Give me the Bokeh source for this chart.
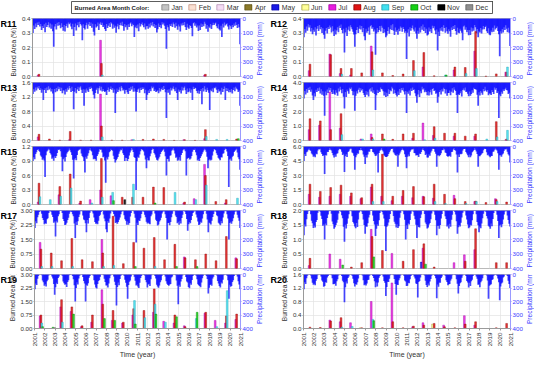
import math
from bokeh.plotting import figure
from bokeh.models import (Range1d, LinearAxis, FixedTicker, PrintfTickFormatter, Label,
                          Legend, LegendItem)
from bokeh.layouts import column, row
from bokeh.embed import file_html
from bokeh.resources import INLINE

FONT = "Liberation Sans"

# ---------------- data ----------------
years = list(range(2001, 2021))
year_ticks = list(range(2001, 2022))
month_names = ["Jan", "Feb", "Mar", "Apr", "May", "Jun", "Jul", "Aug", "Sep", "Oct", "Nov", "Dec"]
month_fill = ["#c4c4c4", "#fbe0d2", "#f4dcf4", "#8b7a2a", "#1a1ae6", "#ffff99",
              "#e81ee0", "#e01414", "#40e0f0", "#14d014", "#000000", "#909090"]
month_edge = ["#808080", "#c09080", "#b890b8", "#5a4e10", "#0000a0", "#a0a040",
              "#a000a0", "#900000", "#20a0b0", "#008000", "#000000", "#606060"]

regions = ["R11", "R12", "R13", "R14", "R15", "R16", "R17", "R18", "R19", "R20"]
ba_ticks = {
    "R11": [0.0, 0.1, 0.2, 0.3, 0.4], "R12": [0.0, 0.1, 0.2, 0.3, 0.4],
    "R13": [0.0, 0.4, 0.8, 1.2, 1.6], "R14": [0.0, 1.0, 2.0, 3.0, 4.0],
    "R15": [0.0, 0.3, 0.6, 0.9, 1.2], "R16": [0.0, 1.5, 3.0, 4.5, 6.0],
    "R17": [0.0, 0.75, 1.5, 2.25, 3.0], "R18": [0.0, 0.5, 1.0, 1.5, 2.0],
    "R19": [0.0, 0.75, 1.5, 2.25, 3.0], "R20": [0.0, 0.4, 0.8, 1.2, 1.6],
}
ba_label_fmt = {"R17": "%.2f", "R19": "%.2f"}
precip_ticks = [0, 100, 200, 300, 400]

# burned area: (year, month, percent)
ba_R11 = [(2001, 7, 0.01), (2001, 8, 0.015), (2007, 7, 0.25), (2007, 8, 0.09), (2007, 9, 0.01),
          (2017, 7, 0.01), (2017, 8, 0.015)]
ba_R12 = [(2001, 7, 0.04), (2001, 8, 0.085), (2003, 7, 0.155), (2003, 8, 0.15),
          (2004, 7, 0.02), (2004, 8, 0.055), (2004, 9, 0.015), (2005, 7, 0.01), (2005, 8, 0.055),
          (2006, 8, 0.025), (2007, 7, 0.21), (2007, 8, 0.17), (2007, 9, 0.045), (2008, 8, 0.025),
          (2009, 8, 0.007), (2010, 8, 0.017), (2011, 8, 0.11), (2011, 9, 0.04),
          (2012, 7, 0.065), (2012, 8, 0.165), (2013, 8, 0.005), (2014, 9, 0.01), (2014, 10, 0.01),
          (2015, 7, 0.045), (2015, 8, 0.065), (2016, 8, 0.062), (2016, 9, 0.02),
          (2017, 7, 0.175), (2017, 8, 0.31), (2017, 9, 0.055), (2018, 8, 0.003), (2019, 8, 0.018),
          (2020, 7, 0.03), (2020, 8, 0.03), (2020, 9, 0.065)]
ba_R13 = [(2001, 7, 0.1), (2001, 8, 0.17), (2002, 8, 0.04), (2003, 8, 0.01), (2004, 7, 0.02),
          (2004, 8, 0.25), (2005, 8, 0.01), (2006, 8, 0.01), (2007, 7, 1.28), (2007, 8, 0.4),
          (2007, 9, 0.1), (2008, 8, 0.01), (2009, 8, 0.01), (2010, 7, 0.02), (2010, 9, 0.03),
          (2011, 8, 0.03), (2012, 8, 0.04), (2013, 8, 0.03), (2014, 8, 0.005), (2015, 7, 0.02),
          (2015, 8, 0.02), (2016, 8, 0.005), (2017, 7, 0.05), (2017, 8, 0.3), (2017, 9, 0.11),
          (2018, 9, 0.03), (2019, 9, 0.03), (2020, 8, 0.04), (2020, 10, 0.05)]
ba_R14 = [(2001, 7, 0.75), (2001, 8, 1.5), (2002, 7, 1.05), (2002, 8, 1.35), (2003, 7, 3.35),
          (2003, 8, 0.75), (2004, 7, 0.85), (2004, 8, 1.85), (2004, 9, 0.4), (2006, 7, 0.1),
          (2006, 9, 0.1), (2007, 7, 0.45), (2007, 8, 0.2), (2007, 9, 0.1), (2008, 8, 0.45),
          (2008, 10, 0.1), (2009, 8, 0.08), (2010, 8, 0.45), (2011, 7, 0.15), (2011, 8, 0.5),
          (2012, 7, 1.2), (2012, 9, 0.05), (2013, 7, 0.35), (2013, 8, 0.95), (2013, 9, 0.15),
          (2014, 8, 0.5), (2015, 7, 0.3), (2015, 8, 0.5), (2016, 8, 0.3), (2017, 7, 0.3),
          (2017, 8, 0.45), (2018, 9, 0.1), (2019, 8, 1.3), (2019, 9, 0.25), (2020, 7, 0.05),
          (2020, 8, 0.1), (2020, 9, 0.7)]
ba_R15 = [(2001, 7, 0.05), (2001, 8, 0.44), (2001, 9, 0.16), (2002, 9, 0.1), (2003, 7, 0.2),
          (2003, 8, 0.37), (2003, 9, 0.17), (2004, 8, 0.63), (2004, 9, 0.34), (2005, 7, 0.03),
          (2005, 8, 0.07), (2006, 7, 0.1), (2006, 9, 0.03), (2007, 7, 0.3), (2007, 8, 0.95),
          (2007, 9, 0.15), (2008, 7, 0.18), (2008, 9, 0.25), (2008, 10, 0.08), (2009, 8, 0.15),
          (2009, 11, 0.1), (2010, 8, 0.15), (2010, 9, 0.42), (2011, 8, 0.15), (2012, 8, 0.36),
          (2012, 10, 0.03), (2013, 8, 0.35), (2014, 9, 0.25), (2015, 7, 0.03), (2015, 8, 0.05),
          (2016, 7, 0.12), (2016, 9, 0.1), (2017, 7, 0.83), (2017, 8, 0.6), (2017, 9, 0.4),
          (2018, 8, 0.06), (2019, 7, 0.03), (2019, 8, 0.1), (2020, 9, 0.13)]
ba_R16 = [(2001, 7, 1.05), (2001, 8, 2.1), (2002, 7, 0.75), (2002, 8, 1.35), (2003, 7, 0.85),
          (2003, 8, 1.75), (2004, 7, 1.05), (2004, 8, 2.0), (2005, 7, 0.85), (2005, 8, 1.2),
          (2006, 7, 0.6), (2006, 8, 0.7), (2007, 7, 1.8), (2007, 8, 2.1), (2007, 9, 0.3),
          (2008, 7, 0.85), (2008, 8, 5.2), (2008, 9, 0.3), (2009, 7, 0.4), (2009, 8, 0.85),
          (2010, 7, 0.85), (2010, 8, 1.45), (2011, 7, 0.7), (2011, 8, 1.85), (2012, 7, 0.85),
          (2012, 8, 0.8), (2013, 7, 0.65), (2013, 8, 2.1), (2013, 9, 0.3), (2014, 8, 1.05),
          (2014, 9, 0.1), (2015, 7, 0.95), (2015, 8, 0.6), (2016, 8, 0.3), (2016, 9, 0.1),
          (2017, 7, 0.3), (2017, 8, 0.35), (2017, 9, 0.3), (2018, 8, 0.2), (2019, 7, 0.6),
          (2019, 8, 0.5), (2019, 9, 0.3), (2020, 8, 0.25)]
ba_R17 = [(2001, 7, 1.35), (2001, 8, 1.0), (2001, 9, 0.1), (2002, 8, 0.8), (2002, 9, 0.1),
          (2003, 8, 0.4), (2004, 8, 1.55), (2004, 9, 0.1), (2005, 8, 0.45), (2006, 8, 0.35),
          (2007, 7, 1.5), (2007, 8, 0.8), (2007, 9, 0.1), (2008, 8, 2.7), (2008, 9, 0.15),
          (2009, 8, 0.25), (2010, 8, 1.35), (2010, 10, 0.1), (2011, 8, 1.05), (2012, 8, 1.6),
          (2012, 9, 0.1), (2013, 8, 0.45), (2014, 8, 1.25), (2014, 10, 0.1), (2015, 7, 0.6),
          (2015, 8, 0.55), (2016, 8, 0.45), (2016, 10, 0.1), (2017, 8, 0.75), (2018, 8, 0.4),
          (2019, 8, 1.65), (2020, 7, 0.55), (2020, 8, 0.5)]
ba_R18 = [(2001, 7, 0.1), (2001, 8, 0.35), (2003, 7, 0.5), (2004, 7, 0.32), (2004, 10, 0.12),
          (2005, 8, 0.05), (2006, 8, 0.2), (2007, 7, 1.35), (2007, 8, 1.1), (2007, 10, 0.4),
          (2008, 8, 0.62), (2009, 7, 0.52), (2010, 8, 0.25), (2011, 8, 0.65), (2012, 5, 0.22),
          (2012, 7, 0.7), (2012, 8, 0.85), (2012, 10, 0.15), (2013, 8, 0.05), (2015, 7, 0.2),
          (2016, 7, 0.47), (2016, 8, 0.25), (2017, 7, 0.65), (2017, 8, 1.37), (2019, 8, 0.2),
          (2020, 8, 0.2)]
ba_R19 = [(2001, 7, 0.7), (2001, 8, 0.75), (2001, 9, 0.3), (2001, 10, 0.1), (2002, 10, 0.07),
          (2002, 12, 0.05), (2003, 7, 1.2), (2003, 8, 1.6), (2003, 9, 0.35), (2004, 7, 0.95),
          (2004, 8, 1.2), (2004, 10, 0.8), (2005, 7, 0.1), (2005, 8, 0.15), (2006, 7, 0.35),
          (2006, 8, 0.75), (2007, 7, 2.15), (2007, 8, 1.35), (2007, 10, 0.55), (2008, 7, 0.45),
          (2008, 8, 1.0), (2008, 10, 0.45), (2009, 7, 0.3), (2009, 8, 0.35), (2010, 7, 0.75),
          (2010, 8, 1.1), (2010, 9, 1.55), (2010, 10, 0.25), (2011, 8, 1.0), (2011, 9, 0.6),
          (2012, 7, 0.9), (2012, 8, 2.2), (2012, 9, 1.35), (2012, 10, 0.8), (2013, 7, 0.4),
          (2013, 9, 0.35), (2014, 7, 0.3), (2014, 8, 0.75), (2014, 10, 0.65), (2015, 7, 0.15),
          (2015, 8, 0.1), (2016, 9, 0.55), (2016, 10, 0.9), (2017, 7, 0.85), (2017, 8, 0.9),
          (2018, 7, 0.45), (2018, 9, 0.1), (2019, 7, 0.3), (2019, 8, 0.7), (2019, 9, 2.1),
          (2020, 7, 0.5), (2020, 8, 0.8)]
ba_R20 = [(2001, 8, 0.04), (2002, 8, 0.03), (2003, 7, 0.25), (2003, 8, 0.22), (2004, 7, 0.2),
          (2004, 8, 0.32), (2004, 9, 0.04), (2005, 7, 0.17), (2005, 9, 0.06), (2006, 6, 0.02),
          (2006, 8, 0.02), (2007, 7, 0.8), (2007, 9, 0.27), (2007, 10, 0.23), (2008, 8, 0.02),
          (2009, 7, 1.35), (2009, 8, 0.2), (2010, 8, 0.02), (2011, 7, 0.05), (2011, 8, 0.07),
          (2012, 7, 0.17), (2012, 8, 0.1), (2013, 6, 0.13), (2013, 8, 0.15), (2014, 7, 0.1),
          (2014, 8, 0.05), (2015, 8, 0.02), (2016, 7, 0.38), (2016, 8, 0.13), (2017, 7, 0.1),
          (2017, 8, 0.2), (2019, 8, 0.02), (2020, 8, 0.15)]

# monthly precipitation (mm), one row per year 2001..2020, Jan..Dec
pr_R11 = [
    [100, 48, 72, 35, 60, 28, 44, 22, 55, 38, 80, 52], [66, 40, 95, 30, 58, 45, 25, 62, 34, 70, 42, 88],
    [195, 55, 38, 76, 30, 50, 24, 46, 68, 32, 58, 84], [44, 90, 52, 36, 64, 28, 40, 30, 56, 74, 36, 120],
    [58, 34, 82, 46, 26, 60, 22, 38, 48, 150, 40, 66], [76, 46, 30, 70, 42, 24, 52, 28, 64, 36, 92, 118],
    [40, 62, 54, 28, 80, 36, 26, 44, 30, 58, 46, 72], [86, 38, 66, 50, 32, 58, 24, 34, 70, 42, 64, 50],
    [98, 56, 36, 74, 44, 30, 48, 22, 52, 84, 38, 60], [46, 78, 40, 58, 34, 26, 54, 36, 44, 128, 62, 48],
    [68, 42, 88, 32, 56, 40, 28, 46, 60, 34, 76, 54], [52, 70, 36, 62, 30, 48, 24, 56, 38, 66, 44, 96],
    [74, 34, 58, 44, 68, 26, 42, 30, 50, 72, 208, 46], [60, 84, 40, 52, 36, 58, 28, 40, 64, 30, 54, 78],
    [42, 56, 90, 34, 48, 30, 46, 24, 58, 80, 36, 62], [70, 44, 52, 66, 122, 32, 26, 50, 34, 62, 48, 86],
    [48, 80, 34, 58, 40, 54, 22, 36, 70, 44, 92, 56], [64, 38, 72, 46, 30, 44, 34, 28, 54, 68, 40, 74],
    [82, 50, 128, 36, 62, 28, 48, 40, 32, 56, 76, 44], [54, 72, 44, 60, 34, 50, 26, 44, 66, 38, 60, 178]]
pr_R12 = [
    [130, 72, 98, 55, 84, 40, 62, 46, 90, 66, 108, 78], [92, 60, 118, 70, 52, 86, 44, 74, 58, 100, 68, 112],
    [140, 84, 66, 104, 58, 72, 48, 62, 96, 54, 88, 120], [76, 110, 82, 60, 94, 50, 66, 42, 80, 102, 70, 235],
    [96, 64, 120, 78, 56, 88, 46, 60, 74, 92, 110, 195], [108, 80, 58, 100, 70, 48, 76, 52, 94, 66, 122, 150],
    [70, 98, 86, 62, 112, 54, 44, 70, 58, 90, 76, 250], [104, 66, 94, 80, 52, 90, 50, 64, 100, 72, 96, 130],
    [118, 86, 60, 106, 74, 46, 80, 40, 84, 114, 62, 92], [80, 112, 70, 88, 56, 64, 92, 58, 72, 98, 86, 280],
    [98, 74, 124, 60, 84, 66, 48, 76, 90, 62, 104, 140], [84, 106, 64, 96, 54, 78, 42, 86, 60, 100, 70, 118],
    [110, 62, 90, 72, 100, 50, 68, 54, 82, 108, 76, 220], [92, 120, 68, 84, 58, 90, 46, 66, 98, 60, 88, 106],
    [74, 88, 126, 62, 80, 52, 72, 44, 86, 112, 64, 96], [102, 70, 84, 98, 150, 56, 48, 78, 60, 94, 80, 116],
    [80, 114, 62, 90, 68, 84, 44, 60, 102, 72, 130, 88], [96, 66, 104, 76, 52, 74, 58, 50, 88, 100, 68, 110],
    [116, 82, 94, 64, 92, 48, 76, 66, 56, 86, 108, 260], [88, 104, 72, 96, 60, 80, 46, 70, 94, 64, 98, 190]]
pr_R13 = [
    [80, 46, 64, 34, 56, 30, 42, 24, 52, 40, 70, 48], [120, 52, 40, 72, 34, 54, 26, 48, 36, 62, 44, 76],
    [200, 44, 68, 38, 60, 28, 46, 32, 58, 36, 74, 54], [56, 82, 46, 64, 36, 50, 24, 40, 66, 30, 58, 185],
    [64, 38, 74, 48, 30, 58, 34, 26, 50, 72, 46, 160], [48, 70, 42, 56, 66, 32, 44, 28, 40, 60, 84, 110],
    [72, 50, 36, 78, 40, 26, 56, 30, 62, 44, 58, 66], [58, 86, 52, 34, 64, 44, 28, 50, 38, 70, 48, 210],
    [76, 42, 66, 50, 32, 60, 24, 36, 56, 46, 78, 52], [50, 68, 80, 38, 58, 30, 48, 26, 64, 40, 62, 200],
    [66, 48, 42, 70, 36, 52, 32, 44, 34, 74, 50, 120], [84, 56, 72, 44, 60, 28, 40, 30, 58, 48, 66, 60],
    [54, 74, 38, 62, 46, 34, 52, 24, 44, 68, 245, 50], [70, 46, 84, 36, 56, 42, 28, 46, 60, 34, 72, 120],
    [48, 64, 52, 76, 30, 56, 36, 28, 54, 80, 42, 68], [62, 40, 70, 48, 120, 30, 44, 34, 40, 58, 74, 56],
    [78, 58, 44, 150, 38, 62, 26, 48, 66, 36, 54, 70], [190, 50, 60, 42, 68, 34, 40, 30, 50, 72, 46, 62],
    [56, 82, 36, 66, 44, 28, 120, 38, 58, 42, 68, 52], [68, 44, 76, 52, 34, 60, 30, 42, 48, 66, 56, 160]]
pr_R14 = [
    [110, 58, 82, 44, 70, 36, 52, 30, 64, 48, 90, 120], [74, 96, 50, 66, 40, 58, 34, 76, 46, 84, 60, 92],
    [230, 62, 88, 48, 72, 34, 56, 38, 66, 80, 50, 78], [84, 54, 70, 92, 42, 62, 30, 50, 74, 44, 98, 180],
    [66, 100, 48, 60, 78, 36, 46, 34, 58, 88, 62, 195], [92, 60, 76, 50, 36, 68, 40, 56, 44, 72, 86, 100],
    [58, 84, 64, 96, 48, 40, 62, 32, 70, 54, 80, 190], [88, 50, 72, 56, 66, 34, 44, 48, 60, 90, 64, 100],
    [70, 94, 46, 80, 52, 60, 30, 42, 78, 50, 72, 84], [96, 62, 86, 44, 70, 38, 54, 36, 62, 82, 58, 210],
    [64, 78, 56, 90, 42, 58, 34, 52, 46, 74, 94, 140], [82, 52, 100, 60, 74, 30, 48, 40, 68, 56, 66, 88],
    [60, 90, 68, 50, 84, 44, 38, 58, 52, 78, 70, 140], [98, 66, 54, 82, 46, 62, 36, 44, 76, 48, 92, 72],
    [72, 56, 88, 64, 40, 70, 32, 50, 58, 86, 210, 80], [86, 74, 60, 96, 52, 42, 56, 34, 66, 62, 78, 94],
    [62, 92, 80, 54, 70, 36, 44, 46, 50, 84, 160, 68], [90, 58, 70, 84, 44, 60, 30, 56, 64, 52, 88, 76],
    [76, 86, 52, 66, 80, 34, 50, 38, 72, 60, 245, 82], [94, 64, 78, 48, 58, 46, 36, 52, 56, 80, 70, 110]]
pr_R15 = [
    [100, 74, 88, 52, 40, 24, 18, 30, 36, 62, 70, 92], [82, 96, 210, 60, 34, 28, 16, 22, 44, 56, 84, 76],
    [98, 68, 80, 66, 44, 20, 24, 18, 32, 70, 170, 88], [76, 104, 72, 48, 38, 30, 14, 26, 40, 58, 92, 220],
    [90, 80, 94, 58, 30, 22, 20, 16, 48, 66, 74, 100], [180, 70, 84, 64, 46, 26, 12, 28, 34, 60, 88, 82],
    [86, 98, 66, 54, 36, 18, 22, 20, 42, 74, 68, 96], [250, 76, 90, 70, 40, 32, 16, 24, 30, 64, 86, 110],
    [94, 84, 72, 50, 34, 20, 26, 14, 46, 58, 100, 78], [80, 100, 86, 62, 42, 28, 10, 22, 38, 72, 80, 300],
    [102, 70, 78, 56, 32, 18, 20, 26, 34, 62, 90, 150], [78, 94, 96, 68, 48, 24, 14, 18, 44, 56, 76, 92],
    [96, 82, 70, 52, 38, 30, 22, 16, 36, 68, 200, 86], [84, 104, 64, 60, 30, 22, 12, 28, 48, 78, 70, 98],
    [92, 74, 98, 58, 44, 26, 18, 20, 32, 200, 84, 80], [76, 90, 82, 66, 36, 20, 24, 14, 40, 60, 96, 88],
    [100, 80, 68, 54, 40, 28, 16, 22, 36, 70, 150, 94], [86, 96, 92, 62, 34, 18, 20, 26, 46, 58, 78, 84],
    [94, 72, 76, 50, 46, 24, 14, 18, 34, 66, 280, 90], [82, 98, 70, 64, 38, 30, 22, 16, 42, 74, 88, 160]]
pr_R16 = [
    [100, 52, 66, 40, 34, 22, 14, 26, 30, 48, 56, 70], [64, 74, 48, 54, 28, 18, 20, 16, 40, 52, 66, 58],
    [190, 58, 62, 36, 38, 24, 12, 22, 28, 44, 60, 76], [56, 70, 50, 46, 26, 16, 18, 20, 36, 58, 50, 175],
    [68, 54, 72, 38, 32, 20, 14, 16, 42, 46, 64, 160], [74, 60, 46, 50, 24, 26, 10, 24, 30, 56, 70, 120],
    [58, 76, 56, 34, 36, 18, 16, 18, 38, 42, 54, 66], [62, 50, 180, 44, 30, 22, 12, 26, 34, 60, 68, 72],
    [72, 66, 52, 40, 28, 16, 18, 14, 40, 48, 58, 64], [54, 140, 60, 48, 34, 24, 14, 22, 28, 54, 72, 150],
    [70, 56, 68, 36, 26, 18, 20, 16, 44, 46, 62, 58], [60, 72, 48, 52, 38, 22, 12, 24, 32, 58, 50, 76],
    [76, 54, 64, 42, 30, 16, 16, 18, 36, 50, 140, 62], [58, 68, 58, 46, 24, 26, 14, 20, 42, 44, 66, 70],
    [66, 62, 70, 38, 36, 20, 10, 24, 30, 56, 180, 56], [72, 50, 54, 50, 28, 18, 18, 16, 38, 48, 60, 74],
    [56, 74, 62, 40, 32, 24, 12, 22, 34, 52, 140, 64], [68, 58, 50, 44, 26, 16, 16, 18, 40, 60, 56, 68],
    [74, 64, 66, 36, 34, 22, 14, 20, 28, 46, 160, 60], [60, 70, 56, 48, 30, 18, 20, 16, 36, 54, 62, 110]]
pr_R17 = [
    [120, 74, 88, 46, 30, 10, 2, 6, 22, 52, 66, 94], [86, 92, 60, 54, 18, 6, 3, 8, 30, 44, 84, 76],
    [180, 70, 82, 40, 26, 4, 1, 4, 18, 58, 72, 100], [96, 84, 66, 50, 22, 8, 2, 10, 26, 40, 90, 190],
    [78, 100, 74, 44, 28, 6, 4, 5, 34, 62, 68, 88], [150, 66, 90, 52, 16, 4, 1, 7, 20, 48, 80, 92],
    [88, 94, 70, 38, 30, 10, 3, 4, 28, 56, 74, 130], [150, 72, 84, 56, 20, 5, 2, 9, 24, 42, 86, 80],
    [92, 80, 64, 48, 26, 8, 4, 6, 32, 60, 70, 98], [76, 98, 86, 42, 18, 4, 1, 5, 22, 50, 220, 84],
    [100, 68, 72, 54, 24, 7, 3, 8, 30, 46, 78, 90], [82, 90, 94, 40, 28, 5, 2, 4, 20, 64, 72, 104],
    [96, 76, 68, 50, 20, 9, 4, 7, 26, 52, 200, 86], [84, 102, 80, 46, 22, 6, 1, 5, 34, 44, 88, 78],
    [98, 70, 90, 52, 30, 4, 3, 9, 24, 58, 140, 94], [80, 88, 66, 38, 18, 8, 2, 6, 28, 48, 76, 100],
    [94, 78, 84, 56, 26, 5, 4, 4, 22, 62, 150, 82], [88, 96, 70, 44, 24, 7, 1, 8, 32, 40, 84, 92],
    [102, 72, 88, 48, 20, 6, 3, 5, 26, 56, 200, 86], [78, 92, 74, 54, 28, 9, 2, 7, 30, 50, 70, 120]]
pr_R18 = [
    [170, 96, 110, 60, 24, 5, 1, 4, 26, 70, 88, 120], [104, 118, 80, 66, 16, 3, 2, 8, 36, 58, 106, 96],
    [200, 90, 102, 52, 28, 6, 1, 3, 22, 76, 94, 126], [116, 100, 84, 64, 20, 4, 2, 9, 32, 54, 112, 215],
    [98, 124, 92, 56, 26, 2, 1, 5, 40, 80, 90, 110], [122, 86, 114, 62, 14, 5, 2, 7, 24, 62, 100, 160],
    [108, 112, 88, 48, 30, 3, 1, 4, 34, 72, 96, 175], [126, 94, 106, 68, 18, 6, 2, 10, 28, 56, 108, 280],
    [112, 104, 82, 58, 24, 4, 1, 5, 38, 78, 92, 118], [94, 120, 108, 50, 16, 2, 2, 6, 26, 64, 200, 102],
    [128, 88, 96, 66, 22, 5, 1, 8, 36, 60, 98, 190], [102, 114, 118, 52, 28, 3, 2, 4, 24, 82, 94, 124],
    [118, 96, 86, 60, 20, 6, 1, 7, 30, 68, 170, 106], [106, 126, 100, 56, 24, 4, 2, 5, 40, 58, 110, 98],
    [124, 92, 112, 64, 30, 2, 1, 9, 28, 74, 160, 116], [100, 110, 84, 48, 16, 5, 2, 6, 34, 62, 96, 122],
    [116, 98, 104, 68, 26, 3, 1, 4, 26, 80, 102, 150], [110, 122, 90, 54, 22, 6, 2, 8, 38, 56, 106, 112],
    [126, 90, 108, 58, 18, 4, 1, 5, 30, 72, 190, 104], [96, 116, 94, 62, 28, 7, 2, 6, 34, 66, 92, 110]]
pr_R19 = [
    [110, 66, 78, 32, 12, 2, 0, 1, 6, 44, 58, 84], [72, 88, 50, 38, 8, 1, 0, 4, 14, 30, 70, 150],
    [94, 62, 70, 26, 14, 0, 0, 2, 10, 52, 64, 76], [70, 92, 56, 42, 6, 3, 0, 1, 12, 36, 80, 200],
    [100, 58, 74, 30, 10, 1, 0, 3, 18, 48, 66, 200], [76, 84, 64, 24, 12, 0, 0, 1, 8, 42, 74, 96],
    [104, 70, 48, 40, 16, 2, 0, 2, 6, 32, 56, 82], [80, 96, 66, 28, 8, 0, 0, 1, 14, 54, 78, 230],
    [92, 60, 80, 34, 10, 3, 0, 2, 10, 38, 62, 90], [180, 78, 54, 44, 14, 0, 0, 1, 16, 46, 82, 74],
    [88, 100, 62, 26, 12, 1, 0, 4, 8, 40, 58, 96], [74, 68, 86, 36, 6, 0, 0, 1, 12, 30, 76, 88],
    [98, 82, 58, 42, 10, 2, 0, 3, 14, 50, 68, 78], [84, 74, 70, 22, 14, 1, 0, 1, 6, 44, 84, 220],
    [76, 90, 52, 34, 8, 0, 0, 2, 18, 52, 60, 92], [102, 64, 76, 40, 12, 3, 0, 1, 10, 36, 72, 80],
    [86, 94, 60, 28, 10, 0, 0, 2, 12, 34, 140, 98], [78, 72, 84, 30, 16, 2, 0, 1, 8, 48, 66, 86],
    [96, 58, 66, 38, 6, 1, 0, 4, 10, 42, 180, 76], [90, 86, 56, 42, 12, 0, 0, 1, 14, 50, 74, 110]]
pr_R20 = [
    [110, 58, 70, 28, 10, 1, 0, 3, 8, 30, 62, 76], [68, 80, 46, 34, 6, 0, 0, 1, 14, 44, 54, 90],
    [86, 56, 62, 22, 12, 3, 0, 2, 6, 28, 72, 70], [64, 84, 50, 36, 8, 0, 0, 1, 12, 46, 58, 205],
    [94, 52, 66, 26, 14, 1, 0, 4, 10, 32, 64, 88], [70, 76, 58, 30, 4, 0, 0, 1, 8, 42, 80, 72],
    [82, 66, 40, 38, 10, 2, 0, 3, 12, 26, 50, 94], [60, 88, 60, 24, 12, 0, 0, 1, 14, 48, 62, 160],
    [92, 54, 56, 32, 6, 1, 0, 2, 6, 34, 70, 150], [74, 78, 42, 28, 8, 0, 0, 1, 10, 44, 52, 86],
    [84, 62, 64, 36, 12, 3, 0, 4, 14, 30, 66, 70], [170, 56, 48, 22, 4, 0, 0, 1, 8, 46, 78, 92],
    [66, 82, 52, 34, 10, 1, 0, 2, 12, 28, 175, 74], [90, 60, 62, 26, 14, 0, 0, 1, 10, 42, 56, 80],
    [72, 70, 44, 32, 6, 2, 0, 3, 6, 36, 68, 140], [86, 64, 58, 24, 8, 0, 0, 1, 12, 48, 60, 96],
    [62, 86, 50, 38, 12, 1, 0, 2, 14, 32, 76, 72], [94, 58, 46, 28, 6, 0, 0, 1, 8, 44, 180, 84],
    [76, 72, 40, 36, 10, 3, 0, 4, 10, 30, 58, 190], [88, 66, 60, 22, 14, 0, 0, 1, 12, 46, 70, 100]]

burned = {"R11": ba_R11, "R12": ba_R12, "R13": ba_R13, "R14": ba_R14, "R15": ba_R15,
          "R16": ba_R16, "R17": ba_R17, "R18": ba_R18, "R19": ba_R19, "R20": ba_R20}
precip = {"R11": pr_R11, "R12": pr_R12, "R13": pr_R13, "R14": pr_R14, "R15": pr_R15,
          "R16": pr_R16, "R17": pr_R17, "R18": pr_R18, "R19": pr_R19, "R20": pr_R20}

# ---------------- layout constants (pixels) ----------------
TOTAL_W = 534
ROW_H = 64
LAST_H = 90
TOP_B = 3
FRAME_H = 58
BA_DROP = 5                   # "Burned Area (%)" sits a little below the frame centre
PR_DROP = 1.5                 # "Precipitation (mm)" is longer, keep it inside short rows
PR_DROP_LAST = 6              # the bottom row has room below
PANEL_W = (238, 237)          # panel figure widths (left col, right col)
PANEL_LB = (15, 15)           # left borders (tick labels only)
PANEL_RB = (14, 14)
STRIP_W = (17, 33, 9)         # text strips: left, middle, right
TICK_FS = "6.2px"
TITLE_FS = "6.6px"
RLAB_FS = "9px"
PRECIP_COLOR = "#0000ff"
BA_COLOR = "#333333"
PR_TXT = "#3a3aff"


def style_axis(ax, color, line_color):
    ax.major_label_text_font_size = TICK_FS
    ax.major_label_text_font = FONT
    ax.major_label_text_color = color
    ax.major_label_standoff = 1
    ax.major_tick_in = 0
    ax.major_tick_out = 1
    ax.minor_tick_out = 0
    ax.minor_tick_in = 0
    ax.axis_line_color = line_color
    ax.major_tick_line_color = line_color


def make_panel(name, col, bottom):
    ticks = ba_ticks[name]
    h = LAST_H if bottom else ROW_H
    p = figure(width=PANEL_W[col], height=h,
               x_range=Range1d(2001, 2021), y_range=Range1d(ticks[0], ticks[-1]),
               x_axis_location="below" if bottom else None,
               output_backend="svg", toolbar_location=None,
               min_border_left=PANEL_LB[col], min_border_right=PANEL_RB[col],
               min_border_top=TOP_B, min_border_bottom=3)
    p.extra_y_ranges = {"precip": Range1d(400, 0)}
    p.outline_line_color = "#a8a8a8"
    p.outline_line_width = 0.8

    p.xgrid.ticker = FixedTicker(ticks=year_ticks)
    p.ygrid.ticker = FixedTicker(ticks=ticks)
    p.xgrid.grid_line_color = "#e2e2e2"
    p.ygrid.grid_line_color = "#e2e2e2"
    p.xgrid.grid_line_width = 0.7
    p.ygrid.grid_line_width = 0.7

    # precipitation (hanging bars on the inverted right axis)
    pr = precip[name]
    px = [y + (m + 0.5) / 12.0 for y in years for m in range(12)]
    pv = [v for yr in pr for v in yr]
    p.vbar(x=px, top=[0] * len(pv), bottom=pv, width=2.0 / 12.0, y_range_name="precip",
           fill_color=PRECIP_COLOR, fill_alpha=0.72, line_color=None)

    # burned area bars, one renderer per month
    for mi in range(12):
        pts = [(y, v) for (y, m, v) in burned[name] if m == mi + 1]
        if not pts:
            continue
        bx = [y + (mi + 0.5) / 12.0 for (y, v) in pts]
        bt = [v for (y, v) in pts]
        p.vbar(x=bx, top=bt, bottom=0, width=0.17, fill_color=month_fill[mi], fill_alpha=0.85,
               line_color=month_edge[mi], line_width=0.4)

    ya = p.yaxis[0]
    ya.ticker = FixedTicker(ticks=ticks)
    ya.formatter = PrintfTickFormatter(format=ba_label_fmt.get(name, "%.1f"))
    style_axis(ya, BA_COLOR, "#9a9a9a")

    ra = LinearAxis(y_range_name="precip", ticker=FixedTicker(ticks=precip_ticks))
    style_axis(ra, PR_TXT, "#9a9aff")
    p.add_layout(ra, "right")

    if bottom:
        xa = p.xaxis[0]
        xa.ticker = FixedTicker(ticks=year_ticks)
        xa.major_label_orientation = math.pi / 2
        style_axis(xa, BA_COLOR, "#9a9a9a")
        xa.major_tick_out = 2
        xa.major_label_standoff = 2
        xa.axis_label = "Time (year)"
        xa.axis_label_text_font_size = "7px"
        xa.axis_label_text_font_style = "normal"
        xa.axis_label_text_font = FONT
        xa.axis_label_text_color = BA_COLOR
        xa.axis_label_standoff = 2
    return p


def make_strip(width, h, pieces):
    """A narrow text strip between panels: region names and rotated axis titles.
    Its frame fills the whole strip; ranges are in pixels (y measured from bottom)."""
    s = figure(width=width, height=h, x_range=Range1d(0, width), y_range=Range1d(0, h),
               x_axis_location=None, y_axis_location=None, output_backend="svg",
               toolbar_location=None, min_border=0, min_border_left=0, min_border_right=0,
               min_border_top=0, min_border_bottom=0)
    s.xgrid.visible = False
    s.ygrid.visible = False
    s.outline_line_color = None
    centre = h - (TOP_B + FRAME_H / 2.0)
    for kind, x, txt in pieces:
        if kind == "region":
            s.add_layout(Label(x=x, y=h - 0.5, text=txt, text_font=FONT,
                               text_font_size=RLAB_FS, text_font_style="bold",
                               text_baseline="top", text_align="left", text_color="black"))
        else:
            if kind == "ba":
                drop = BA_DROP
            else:
                drop = PR_DROP_LAST if h == LAST_H else PR_DROP
            s.add_layout(Label(x=x, y=centre - drop, text=txt, angle=math.pi / 2,
                               text_font=FONT, text_font_size=TITLE_FS,
                               text_baseline="middle", text_align="center",
                               text_color=BA_COLOR if kind == "ba" else PR_TXT))
    return s


# ---------------- legend strip ----------------
leg = figure(width=TOTAL_W, height=15, x_range=Range1d(0, 1), y_range=Range1d(0, 1),
             x_axis_location=None, y_axis_location=None, output_backend="svg",
             toolbar_location=None, min_border_left=71, min_border_right=42,
             min_border_top=1, min_border_bottom=2)
leg.xgrid.visible = False
leg.ygrid.visible = False
leg.outline_line_color = "#333333"
leg.outline_line_width = 0.8
items = []
for mi, mname in enumerate(month_names):
    # one swatch renderer per month; its single bar sits outside the visible range
    r = leg.vbar(x=[5], top=[5], bottom=[4], width=0.1, fill_color=month_fill[mi],
                 line_color=month_edge[mi], line_width=0.8)
    items.append(LegendItem(label=mname, renderers=[r]))
lg = Legend(items=items, orientation="horizontal", location="center_right",
            border_line_color=None, background_fill_alpha=0, padding=0, margin=4,
            spacing=5, glyph_width=9, glyph_height=7, label_standoff=2,
            label_width=6, label_height=7,
            label_text_font=FONT, label_text_font_size="7px", label_text_color="#333333")
leg.add_layout(lg)
leg.add_layout(Label(x=0, y=0.5, x_offset=3, text="Burned Area Month Color:",
                     text_font=FONT, text_font_size="6px", text_font_style="bold",
                     text_baseline="middle", text_align="left", text_color="#222222"))

rows = [leg]
for i in range(5):
    ra_name, rb_name = regions[2 * i], regions[2 * i + 1]
    bottom = i == 4
    h = LAST_H if bottom else ROW_H
    left_strip = make_strip(STRIP_W[0], h, [("region", 0, ra_name),
                                            ("ba", 13.0 if ra_name not in ba_label_fmt else 12.0,
                                             "Burned Area (%)")])
    pa = make_panel(ra_name, 0, bottom)
    mid_strip = make_strip(STRIP_W[1], h, [("pr", 4, "Precipitation (mm)"),
                                           ("region", 15, rb_name),
                                           ("ba", 29.0, "Burned Area (%)")])
    pb = make_panel(rb_name, 1, bottom)
    right_strip = make_strip(STRIP_W[2], h, [("pr", 4, "Precipitation (mm)")])
    rows.append(row(left_strip, pa, mid_strip, pb, right_strip, spacing=0))

layout = column(*rows, spacing=0)

open("out.html", "w").write(file_html(layout, INLINE))
